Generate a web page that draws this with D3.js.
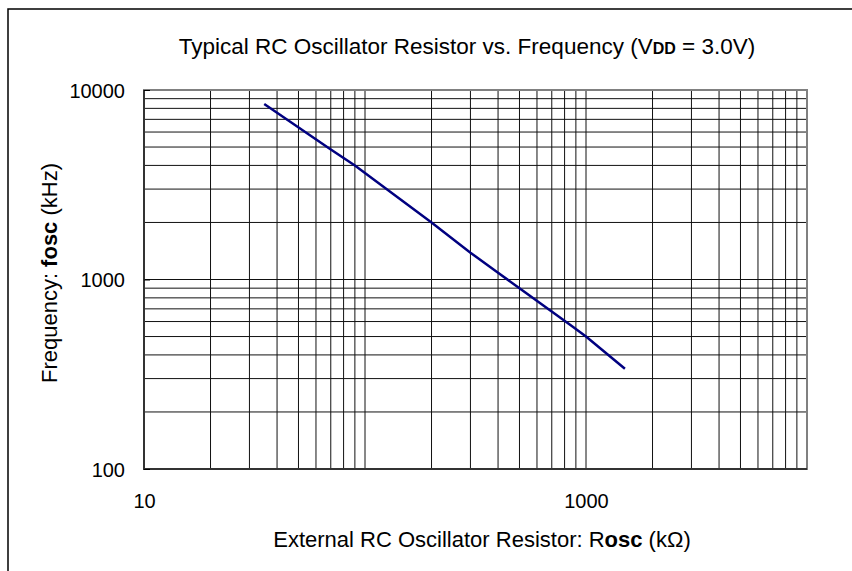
<!DOCTYPE html>
<html>
<head>
<meta charset="utf-8">
<script src="https://cdn.jsdelivr.net/npm/d3@7"></script>
<style>
  body { margin: 0; background: #fff; }
  svg { display: block; font-family: "Liberation Sans", Arial, sans-serif; }
</style>
</head>
<body>
<svg id="chart" width="852" height="571"></svg>
<script>
// resistor values (kOhm)
const resistance = [35, 69.5, 90, 200, 300, 400, 500, 850, 1000, 1500];
// matching oscillator frequency (kHz)
const frequency = [8440, 4885, 4000, 2000, 1385, 1086, 899, 575, 500, 338];
const xTickLabels = [10, 1000];
const yTickLabels = [100, 1000, 10000];

const svg = d3.select('#chart');
const width = 852;
const height = 571;
const margin = { top: 90, right: 45, bottom: 102, left: 144 };

// outer frame (only left and top edges show in the picture)
svg.append('rect')
  .attr('x', 8).attr('y', 9)
  .attr('width', width + 20).attr('height', height + 20)
  .attr('fill', 'none')
  .attr('stroke', '#000')
  .attr('stroke-width', 1.5);

const x = d3.scaleLog().domain([10, 10000]).range([margin.left, width - margin.right]);
const y = d3.scaleLog().domain([100, 10000]).range([height - margin.bottom, margin.top]);

// grid
const grid = svg.append('g').attr('stroke', '#111').attr('stroke-width', 1);
grid.selectAll('line.v')
  .data(x.ticks())
  .enter().append('line')
  .attr('class', 'v')
  .attr('x1', d => x(d)).attr('x2', d => x(d))
  .attr('y1', y.range()[1]).attr('y2', y.range()[0]);
grid.selectAll('line.h')
  .data(y.ticks())
  .enter().append('line')
  .attr('class', 'h')
  .attr('x1', x.range()[0]).attr('x2', x.range()[1])
  .attr('y1', d => y(d)).attr('y2', d => y(d));

// plot frame
svg.append('rect')
  .attr('x', x.range()[0]).attr('y', y.range()[1])
  .attr('width', x.range()[1] - x.range()[0])
  .attr('height', y.range()[0] - y.range()[1])
  .attr('fill', 'none')
  .attr('stroke', '#808080')
  .attr('stroke-width', 2);
svg.append('path')
  .attr('d', `M${x.range()[0]},${y.range()[1]}V${y.range()[0]}H${x.range()[1]}`)
  .attr('fill', 'none')
  .attr('stroke', '#333')
  .attr('stroke-width', 2);

// axes (labels only)
const yAxis = svg.append('g')
  .attr('transform', `translate(${x.range()[0]},0)`)
  .call(d3.axisLeft(y).tickValues(yTickLabels).tickFormat(d3.format('d')).tickSize(6));
yAxis.select('.domain').remove();
yAxis.selectAll('line').attr('x2', 6).attr('stroke', '#000');
yAxis.selectAll('text').attr('font-size', 20).attr('font-family', 'Liberation Sans, Arial').attr('fill', '#000').attr('dy', '0.36em').attr('x', -19);

const xAxis = svg.append('g')
  .attr('transform', `translate(0,${y.range()[0]})`)
  .call(d3.axisBottom(x).tickValues(xTickLabels).tickFormat(d3.format('d')).tickSize(0));
xAxis.select('.domain').remove();
xAxis.selectAll('text').attr('font-size', 20).attr('font-family', 'Liberation Sans, Arial').attr('fill', '#000').attr('dy', 0).attr('y', 39);

// curve
const line = d3.line().x((d, i) => x(resistance[i])).y(d => y(d));
svg.append('path')
  .datum(frequency)
  .attr('d', line)
  .attr('fill', 'none')
  .attr('stroke', '#000080')
  .attr('stroke-width', 2.5);

// title
const title = svg.append('text')
  .attr('x', 467).attr('y', 54)
  .attr('text-anchor', 'middle')
  .attr('font-size', 22.5);
title.append('tspan').text('Typical RC Oscillator Resistor vs. Frequency (V');
title.append('tspan').attr('font-size', 16).attr('font-weight', 'bold').text('DD');
title.append('tspan').text(' = 3.0V)');

// x axis title
const xt = svg.append('text')
  .attr('x', 482).attr('y', 547)
  .attr('text-anchor', 'middle')
  .attr('font-size', 22);
xt.append('tspan').text('External RC Oscillator Resistor: R');
xt.append('tspan').attr('font-weight', 'bold').text('osc');
xt.append('tspan').text(' (kΩ)');

// y axis title
const yt = svg.append('text')
  .attr('transform', 'translate(57,273) rotate(-90)')
  .attr('text-anchor', 'middle')
  .attr('font-size', 22);
yt.append('tspan').text('Frequency: ');
yt.append('tspan').attr('font-weight', 'bold').text('fosc');
yt.append('tspan').text(' (kHz)');
</script>
</body>
</html>
